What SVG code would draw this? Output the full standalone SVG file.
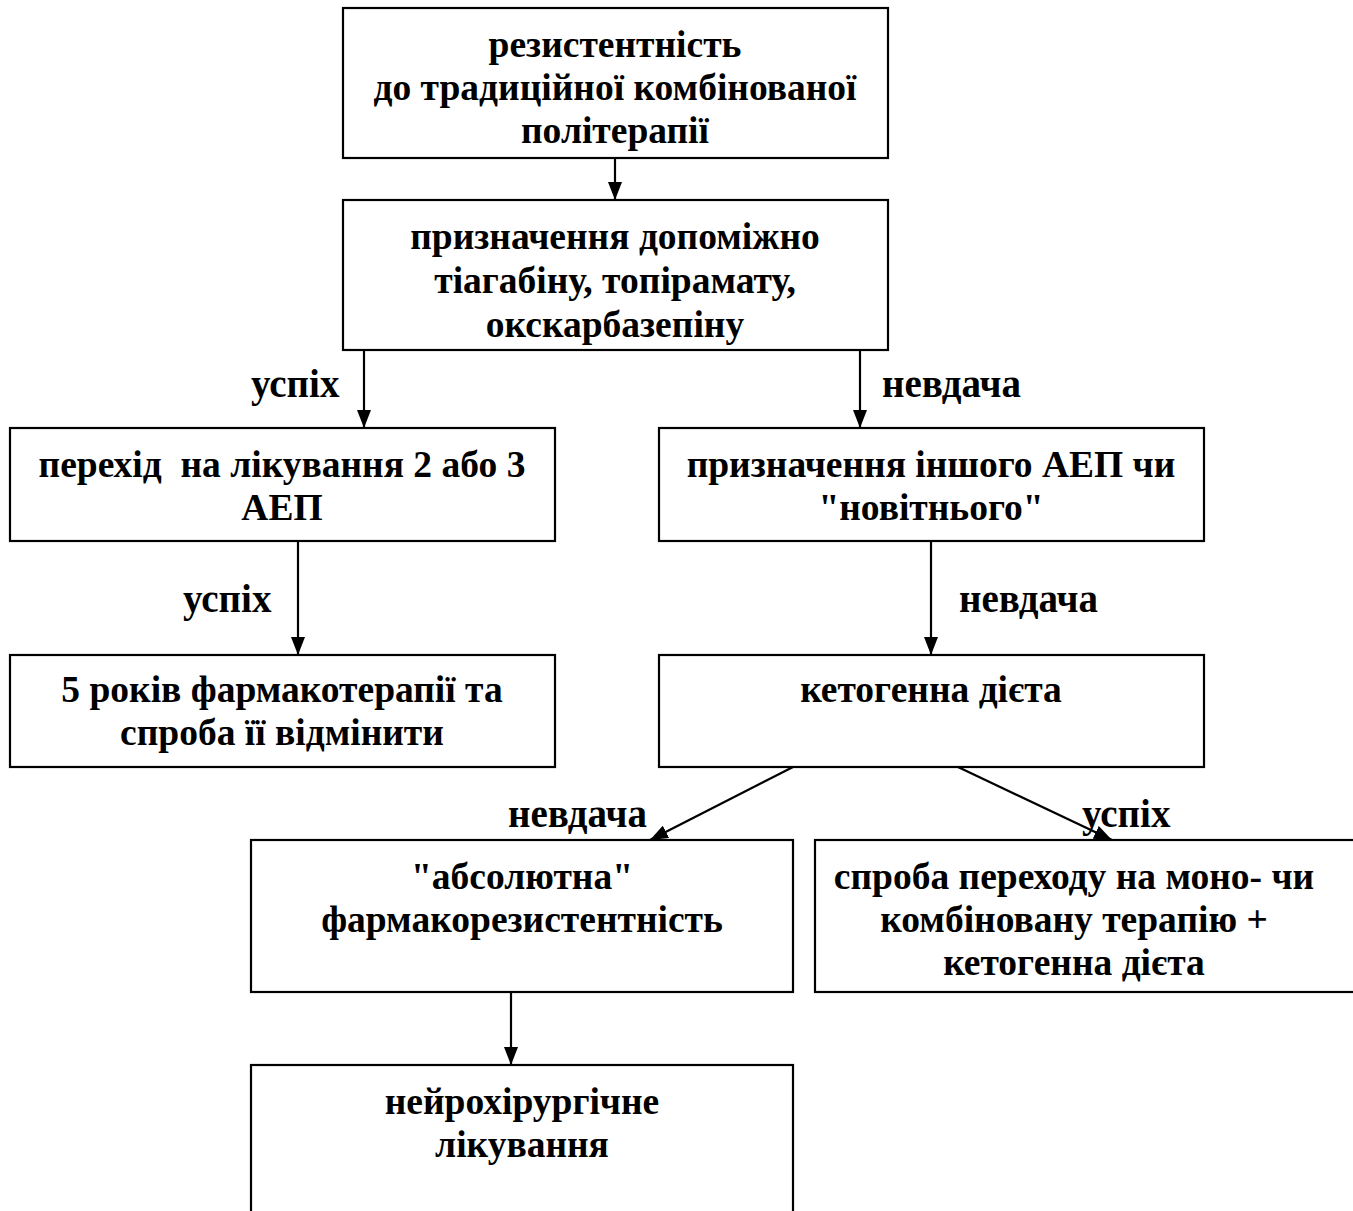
<svg xmlns="http://www.w3.org/2000/svg" width="1353" height="1211" viewBox="0 0 1353 1211">
<defs>
<style>
.box{fill:#fff;stroke:#000;stroke-width:2.2}
.t{font-family:"Liberation Serif","Times New Roman",serif;font-weight:bold;font-size:37.5px;fill:#000;text-anchor:middle}
.l{font-family:"Liberation Serif","Times New Roman",serif;font-weight:bold;font-size:39px;fill:#000}
.c{stroke:#000;stroke-width:2.2;fill:none}
</style>
<marker id="a" viewBox="0 0 18 14" refX="18" refY="7" markerWidth="18" markerHeight="14" markerUnits="userSpaceOnUse" orient="auto">
<path d="M0,0 L18,7 L0,14 z" fill="#000"/>
</marker>
</defs>
<rect width="1353" height="1211" fill="#fff"/>
<g id="connectors">
<line class="c" x1="615" y1="158" x2="615" y2="200" marker-end="url(#a)"/>
<line class="c" x1="364" y1="350" x2="364" y2="428" marker-end="url(#a)"/>
<line class="c" x1="860" y1="350" x2="860" y2="428" marker-end="url(#a)"/>
<line class="c" x1="298" y1="541" x2="298" y2="655" marker-end="url(#a)"/>
<line class="c" x1="931" y1="541" x2="931" y2="655" marker-end="url(#a)"/>
<line class="c" x1="793" y1="767" x2="650" y2="840" marker-end="url(#a)"/>
<line class="c" x1="958" y1="767" x2="1112" y2="840" marker-end="url(#a)"/>
<line class="c" x1="511" y1="992" x2="511" y2="1065" marker-end="url(#a)"/>
<text class="l" x="251" y="397">успіх</text>
<text class="l" x="882" y="397">невдача</text>
<text class="l" x="183" y="612">успіх</text>
<text class="l" x="959" y="612">невдача</text>
<text class="l" x="508" y="827">невдача</text>
<text class="l" x="1082" y="827">успіх</text>
</g>
<g id="n1">
<rect class="box" x="343" y="8" width="545" height="150"/>
<text class="t" x="615" y="57">резистентність</text>
<text class="t" x="615" y="100">до традиційної комбінованої</text>
<text class="t" x="615" y="143">політерапії</text>
</g>
<g id="n2">
<rect class="box" x="343" y="200" width="545" height="150"/>
<text class="t" x="615" y="249">призначення допоміжно</text>
<text class="t" x="615" y="293">тіагабіну, топірамату,</text>
<text class="t" x="615" y="337">окскарбазепіну</text>
</g>
<g id="n3">
<rect class="box" x="10" y="428" width="545" height="113"/>
<text class="t" x="282" y="477" xml:space="preserve">перехід  на лікування 2 або 3</text>
<text class="t" x="282" y="520">АЕП</text>
</g>
<g id="n4">
<rect class="box" x="659" y="428" width="545" height="113"/>
<text class="t" x="931" y="477">призначення іншого АЕП чи</text>
<text class="t" x="931" y="520">"новітнього"</text>
</g>
<g id="n5">
<rect class="box" x="10" y="655" width="545" height="112"/>
<text class="t" x="282" y="702">5 років фармакотерапії та</text>
<text class="t" x="282" y="745">спроба її відмінити</text>
</g>
<g id="n6">
<rect class="box" x="659" y="655" width="545" height="112"/>
<text class="t" x="931" y="702">кетогенна дієта</text>
</g>
<g id="n7">
<rect class="box" x="251" y="840" width="542" height="152"/>
<text class="t" x="522" y="889">"абсолютна"</text>
<text class="t" x="522" y="932">фармакорезистентність</text>
</g>
<g id="n8">
<rect class="box" x="815" y="840" width="560" height="152"/>
<text class="t" x="1074" y="889">спроба переходу на моно- чи</text>
<text class="t" x="1074" y="932">комбіновану терапію +</text>
<text class="t" x="1074" y="975">кетогенна дієта</text>
</g>
<g id="n9">
<rect class="box" x="251" y="1065" width="542" height="170"/>
<text class="t" x="522" y="1114">нейрохірургічне</text>
<text class="t" x="522" y="1157">лікування</text>
</g>
</svg>
